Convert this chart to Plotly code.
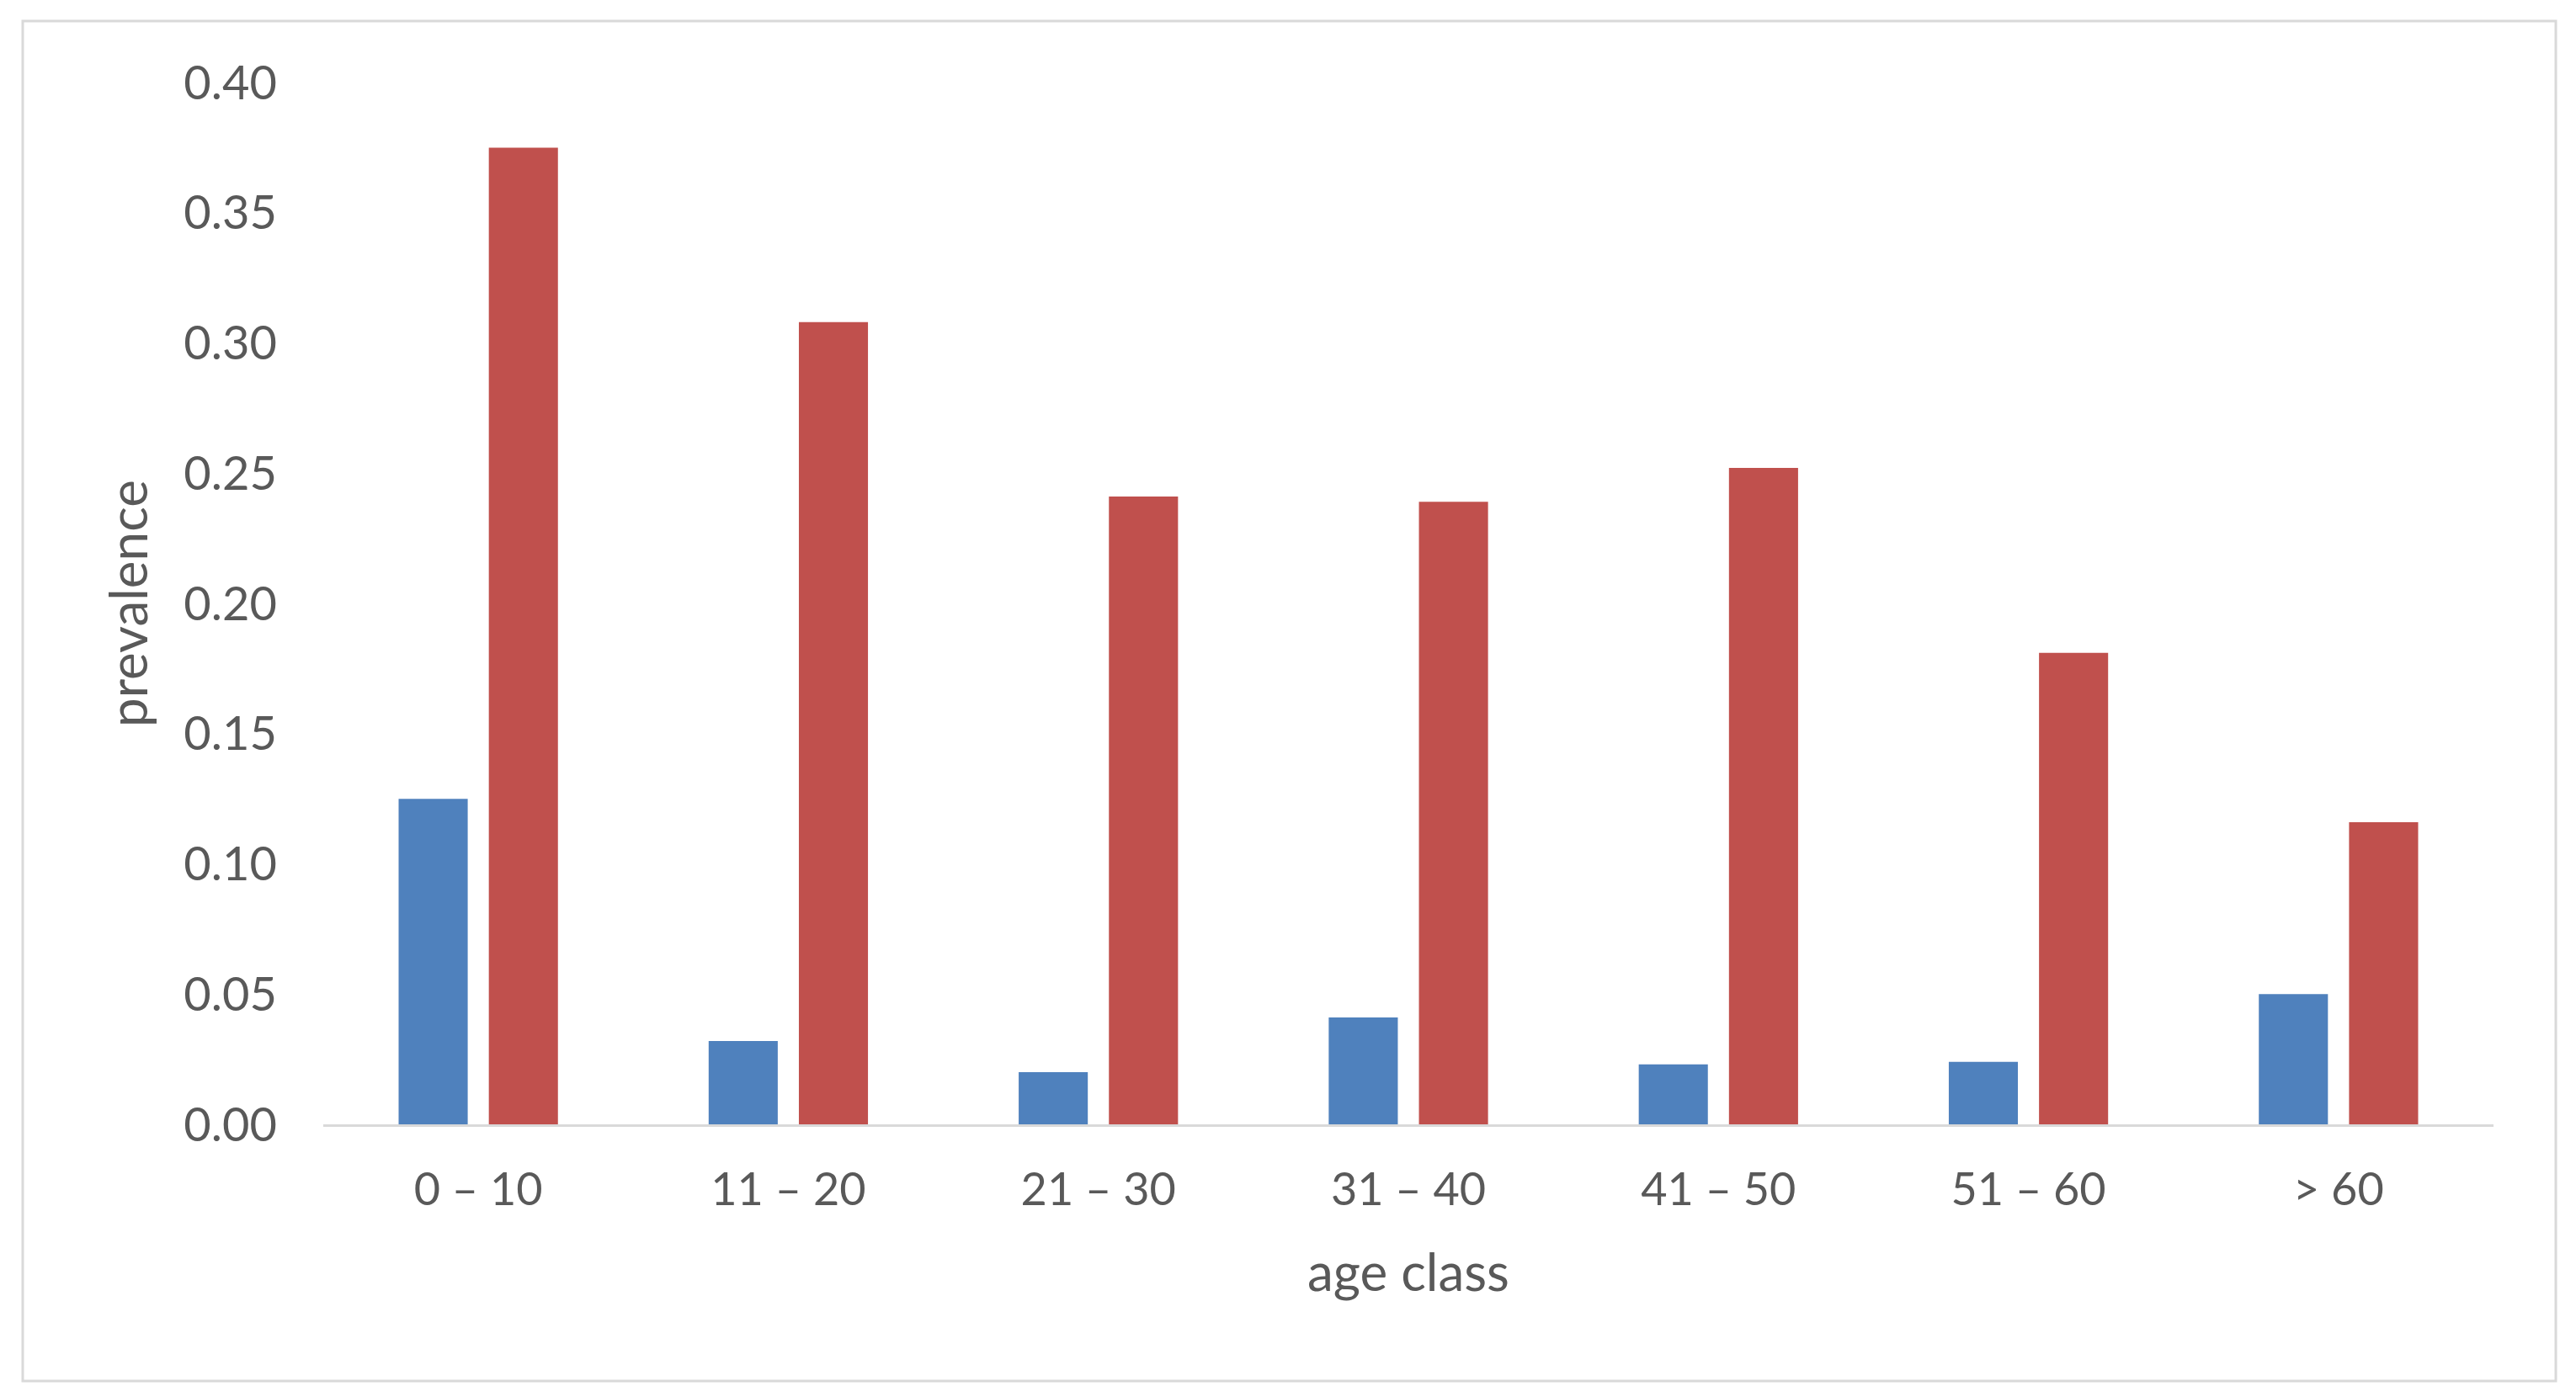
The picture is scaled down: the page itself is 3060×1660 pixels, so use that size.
import plotly.graph_objects as go

# ---- data ----
categories = ["0 – 10", "11 – 20", "21 – 30", "31 – 40", "41 – 50", "51 – 60", "> 60"]
series_blue = [0.125, 0.032, 0.020, 0.041, 0.023, 0.024, 0.050]
series_red = [0.375, 0.308, 0.241, 0.239, 0.252, 0.181, 0.116]
y_tick_values = [0.00, 0.05, 0.10, 0.15, 0.20, 0.25, 0.30, 0.35, 0.40]
y_tick_labels = ["0.00", "0.05", "0.10", "0.15", "0.20", "0.25", "0.30", "0.35", "0.40"]
x_title = "age class"
y_title = "prevalence"

# ---- layout constants (pixels) ----
W, H = 3060, 1660
PL, PR, PT, PB = 384, 2962, 98, 1336          # plot area edges
BL, BR, BT, BB = 27, 3036, 25, 1641           # outer frame edges
TEXT = "#595959"
FONT = "Lato"

fig = go.Figure()
fig.add_trace(go.Bar(x=categories, y=series_blue, name="series 1",
                     marker=dict(color="#4F81BD", line=dict(width=0))))
fig.add_trace(go.Bar(x=categories, y=series_red, name="series 2",
                     marker=dict(color="#C0504D", line=dict(width=0))))

pw, ph = PR - PL, PB - PT
def px2paper_x(v): return (v - PL) / pw
def px2paper_y(v): return (PB - v) / ph

fig.update_layout(
    width=W, height=H,
    margin=dict(l=PL, r=W - PR, t=PT, b=H - PB, pad=0),
    paper_bgcolor="white", plot_bgcolor="white",
    showlegend=False,
    barmode="group", bargap=0.418, bargroupgap=0.234,
    font=dict(family=FONT, color=TEXT, size=56),
    xaxis=dict(
        showgrid=False, zeroline=False,
        showline=True, linecolor="#D9D9D9", linewidth=3,
        ticks="", tickfont=dict(size=54, color=TEXT, family=FONT),
        ticklabelstandoff=28,
        title=dict(text=x_title, font=dict(size=62, color=TEXT, family=FONT), standoff=48),
    ),
    yaxis=dict(
        range=[0, 0.4], tickvals=y_tick_values, ticktext=y_tick_labels,
        showgrid=False, zeroline=False, showline=False,
        ticks="", tickfont=dict(size=56, color=TEXT, family=FONT),
        ticklabelstandoff=54,
        title=dict(text=y_title, font=dict(size=62, color=TEXT, family=FONT), standoff=22),
    ),
    shapes=[dict(type="rect", xref="paper", yref="paper",
                 x0=px2paper_x(BL), x1=px2paper_x(BR),
                 y0=px2paper_y(BB), y1=px2paper_y(BT),
                 line=dict(color="#D9D9D9", width=3), fillcolor="rgba(0,0,0,0)",
                 layer="below")],
)

fig.write_html("out.html", config={"displayModeBar": False},
               post_script="document.body.style.margin='0';")
